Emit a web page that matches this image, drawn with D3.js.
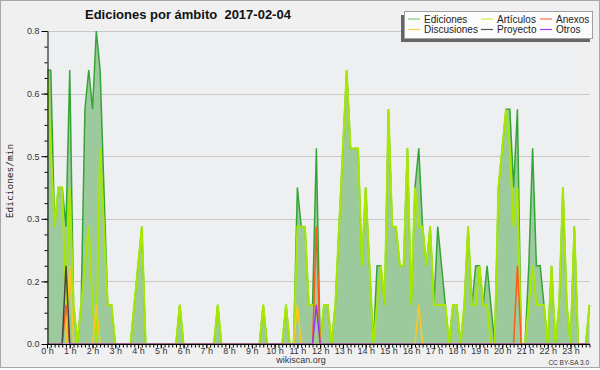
<!DOCTYPE html>
<html><head><meta charset="utf-8">
<script src="https://cdn.jsdelivr.net/npm/d3@7"></script>
<style>html,body{margin:0;padding:0;background:#fff;} svg{display:block;}</style>
</head><body>
<svg id="c" width="600" height="370"></svg>
<script>
// 10-minute bins (144 per day), edits per minute
const hourLabels = ["0 h","1 h","2 h","3 h","4 h","5 h","6 h","7 h","8 h","9 h","10 h","11 h","12 h","13 h","14 h","15 h","16 h","17 h","18 h","19 h","20 h","21 h","22 h","23 h"];
const yTickValues = [0, 0.16, 0.32, 0.48, 0.64, 0.8];
const seriesNames = ["Ediciones","Artículos","Anexos","Discusiones","Proyecto","Otros"];

const ediciones = [
 0.7,0.7,0.3,0.4,0.4,0.3,  0.7,0.1,0,0.1,0.6,0.7,  0.6,0.8,0.7,0.4,0.1,0.1,  0,0,0,0,0,0.1,
 0.2,0.3,0,0,0,0,  0,0,0,0,0,0.1,  0,0,0,0,0,0,  0,0,0,0.1,0,0,
 0,0,0,0,0,0,  0,0,0,0.1,0,0,  0,0,0,0.1,0,0,  0.4,0.3,0.3,0.1,0.1,0.5,
 0,0.1,0.1,0,0.1,0.3,  0.5,0.7,0.5,0.5,0.5,0.2,  0.4,0.2,0,0.2,0.2,0.1,  0.6,0.3,0.3,0.2,0.2,0.5,
 0.1,0.4,0.5,0.3,0.2,0.3,  0.1,0.3,0.2,0.1,0,0.1,  0.1,0,0.1,0.3,0.1,0.2,  0.2,0.1,0.2,0.1,0,0.4,
 0.5,0.6,0.6,0.4,0.6,0,  0,0.2,0.5,0.2,0.2,0.1,  0,0.2,0,0.1,0.4,0.1,  0,0.3,0,0,0,0.1
];
const articulos = [
 0.7,0.5,0.3,0.4,0.4,0.1,  0.4,0.1,0,0.1,0.2,0.3,  0.1,0,0.5,0.3,0.1,0.1,  0,0,0,0,0,0.1,
 0.2,0.3,0,0,0,0,  0,0,0,0,0,0.1,  0,0,0,0,0,0,  0,0,0,0.1,0,0,
 0,0,0,0,0,0,  0,0,0,0.1,0,0,  0,0,0,0.1,0,0,  0.3,0.3,0.3,0.1,0.1,0.1,
 0,0.1,0.1,0,0.1,0.3,  0.5,0.7,0.5,0.5,0.5,0.2,  0.4,0.2,0,0.1,0.2,0.1,  0.6,0.3,0.3,0.2,0.2,0.5,
 0.1,0.4,0.3,0.3,0.2,0.3,  0.1,0.1,0.1,0.1,0,0.1,  0.1,0,0.1,0.3,0.1,0.1,  0.2,0.1,0.1,0,0,0.4,
 0.5,0.6,0.5,0.3,0.4,0,  0,0.1,0.2,0.1,0.1,0.1,  0,0.2,0,0.1,0.4,0.1,  0,0.3,0,0,0,0.1
];
const anexos = [
 0,0,0,0,0,0.1,  0,0,0,0,0,0,  0,0,0,0,0,0,  0,0,0,0,0,0,
 0,0,0,0,0,0,  0,0,0,0,0,0,  0,0,0,0,0,0,  0,0,0,0,0,0,
 0,0,0,0,0,0,  0,0,0,0,0,0,  0,0,0,0,0,0,  0,0,0,0,0,0.3,
 0,0,0,0,0,0,  0,0,0,0,0,0,  0,0,0,0,0,0,  0,0,0,0,0,0,
 0,0,0,0,0,0,  0,0,0,0,0,0,  0,0,0,0,0,0,  0,0,0,0,0,0,
 0,0,0,0,0.2,0,  0,0,0,0,0,0,  0,0,0,0,0,0,  0,0,0,0,0,0
];
const discusiones = [
 0,0,0,0,0,0,  0.2,0,0,0,0,0,  0,0.1,0,0,0,0,  0,0,0,0,0,0,
 0,0,0,0,0,0,  0,0,0,0,0,0,  0,0,0,0,0,0,  0,0,0,0,0,0,
 0,0,0,0,0,0,  0,0,0,0,0,0,  0,0,0,0,0,0,  0.1,0,0,0,0,0,
 0,0,0,0,0,0,  0,0,0,0,0,0,  0,0,0,0,0,0,  0,0,0,0,0,0,
 0,0,0.1,0,0,0,  0,0,0,0,0,0,  0,0,0,0,0,0,  0,0,0,0,0,0,
 0,0,0,0,0,0,  0,0,0,0,0,0,  0,0,0,0,0,0,  0,0,0,0,0,0
];
const proyecto = [
 0,0,0,0,0,0.2,  0,0,0,0,0,0,  0,0,0,0,0,0,  0,0,0,0,0,0,
 0,0,0,0,0,0,  0,0,0,0,0,0,  0,0,0,0,0,0,  0,0,0,0,0,0,
 0,0,0,0,0,0,  0,0,0,0,0,0,  0,0,0,0,0,0,  0,0,0,0,0,0,
 0,0,0,0,0,0,  0,0,0,0,0,0,  0,0,0,0,0,0,  0,0,0,0,0,0,
 0,0,0,0,0,0,  0,0,0,0,0,0,  0,0,0,0,0,0,  0,0,0,0,0,0,
 0,0,0,0,0,0,  0,0,0,0,0,0,  0,0,0,0,0,0,  0,0,0,0,0,0
];
const otros = [
 0,0,0,0,0,0,  0,0,0,0,0,0,  0,0,0,0,0,0,  0,0,0,0,0,0,
 0,0,0,0,0,0,  0,0,0,0,0,0,  0,0,0,0,0,0,  0,0,0,0,0,0,
 0,0,0,0,0,0,  0,0,0,0,0,0,  0,0,0,0,0,0,  0,0,0,0,0,0.1,
 0,0,0,0,0,0,  0,0,0,0,0,0,  0,0,0,0,0,0,  0,0,0,0,0,0,
 0,0,0,0,0,0,  0,0,0,0,0,0,  0,0,0,0,0,0,  0,0,0,0,0,0,
 0,0,0,0,0,0,  0,0,0,0,0,0,  0,0,0,0,0,0,  0,0,0,0,0,0
];

const colors = {
  Ediciones: "#35a535", Artículos: "#a8e800", Anexos: "#ff5a1a",
  Discusiones: "#ffc81e", Proyecto: "#444444", Otros: "#9a30ff"
};
const legendColors = {
  Ediciones: "#7fc97f", Artículos: "#c8f040", Anexos: "#ff7040",
  Discusiones: "#ffd040", Proyecto: "#555555", Otros: "#9a40ff"
};

const svg = d3.select("#c");
const font = "'Liberation Sans', Arial, sans-serif";

// outer background + border
svg.append("rect").attr("x",0.5).attr("y",0.5).attr("width",599).attr("height",367)
  .attr("fill","#f0f0f0").attr("stroke","#a8a8a8");

const x = d3.scaleLinear().domain([0,143]).range([47,589.5]);
const y = d3.scaleLinear().domain([0,0.8]).range([344,31]);

// plot background
svg.append("rect").attr("x",47).attr("y",31).attr("width",543).attr("height",313).attr("fill","#edeff1");

// gridlines
svg.append("g").selectAll("line").data(yTickValues.slice(1)).join("line")
  .attr("x1",47).attr("x2",590).attr("y1",d=>Math.round(y(d))+0.5).attr("y2",d=>Math.round(y(d))+0.5)
  .attr("stroke","#c8c8c8").attr("stroke-width",1);

svg.append("clipPath").attr("id","clip").append("rect")
  .attr("x",47).attr("y",26).attr("width",544).attr("height",317.5);

const plot = svg.append("g").attr("clip-path","url(#clip)");

const area = d3.area().x((d,i)=>x(i)).y0(y(0)).y1(d=>y(d));
const line = d3.line().x((d,i)=>x(i)).y(d=>y(d));

plot.append("path").datum(ediciones).attr("d",area).attr("fill","#9dca9d");
plot.append("path").datum(ediciones).attr("d",line).attr("fill","none")
  .attr("stroke",colors.Ediciones).attr("stroke-width",1.5);
plot.append("path").datum(articulos).attr("d",line).attr("fill","none")
  .attr("stroke",colors["Artículos"]).attr("stroke-width",2);
[[anexos,"Anexos"],[discusiones,"Discusiones"],[proyecto,"Proyecto"],[otros,"Otros"]].forEach(([arr,name])=>{
  plot.append("path").datum(arr).attr("d",line).attr("fill","none")
    .attr("stroke",colors[name]).attr("stroke-width",1.5);
});

// Y axis
const yMinor = d3.range(0, 0.8001, 0.04);
const yAxisMinor = d3.axisLeft(y).tickValues(yMinor).tickSize(3).tickFormat("").tickSizeOuter(0);
const gyMinor = svg.append("g").attr("transform","translate(47.5,0)").call(yAxisMinor);
gyMinor.select(".domain").remove();
const yAxis = d3.axisLeft(y).tickValues(yTickValues).tickFormat(d3.format(".1f")).tickSize(6).tickPadding(2).tickSizeOuter(0);
const gy = svg.append("g").attr("transform","translate(47.5,0)").call(yAxis);
svg.selectAll("g.tick line").attr("stroke","#000");
gy.select(".domain").attr("stroke","#000");
gy.selectAll("text").attr("font-family",font).attr("font-size",9).attr("fill","#333");

// X axis
const xMinor = d3.range(0,144);
const gxMinor = svg.append("g").attr("transform","translate(0,344.5)")
  .call(d3.axisBottom(x).tickValues(xMinor).tickSize(3).tickFormat("").tickSizeOuter(0));
gxMinor.select(".domain").remove();
gxMinor.selectAll("line").attr("stroke","#000");
const hourIdx = d3.range(24).map(h=>h*6);
const gx = svg.append("g").attr("transform","translate(0,344.5)")
  .call(d3.axisBottom(x).tickValues(hourIdx).tickSize(4).tickFormat((d,i)=>hourLabels[i]).tickSizeOuter(0));
gx.select(".domain").attr("stroke","#000").attr("d","M47,0H590");
gx.selectAll("line").attr("stroke","#000");
gx.selectAll("text").attr("font-family",font).attr("font-size",9).attr("fill","#333")
  .attr("y",9).attr("dy",0);

// Y title
svg.append("text").attr("transform","translate(13,181) rotate(-90)").attr("text-anchor","middle")
  .attr("font-family","'DejaVu Sans Mono', monospace").attr("font-size",9.5).attr("fill","#222")
  .text("Ediciones/min");

// Title
svg.append("text").attr("x",85).attr("y",18.5).attr("font-family",font).attr("font-weight","bold")
  .attr("font-size",13).attr("fill","#111").attr("xml:space","preserve").style("white-space","pre")
  .text("Ediciones por ámbito  2017-02-04");

// Footer
svg.append("text").attr("x",301).attr("y",363).attr("text-anchor","middle").attr("font-family",font)
  .attr("font-size",9).attr("fill","#333").text("wikiscan.org");
svg.append("text").attr("x",589).attr("y",365).attr("text-anchor","end").attr("font-family",font)
  .attr("font-size",6.5).attr("fill","#333").text("CC BY-SA 3.0");

// Legend
svg.append("rect").attr("x",401).attr("y",15).attr("width",189).attr("height",27).attr("fill","#666");
svg.append("rect").attr("x",404.5).attr("y",11.5).attr("width",188).attr("height",27)
  .attr("fill","#fcfcfc").attr("stroke","#a0a0a0");
const legendPos = [
  {n:"Ediciones", lx:408, tx:424, ly:19, ty:22.5},
  {n:"Artículos", lx:481, tx:497, ly:19, ty:22.5},
  {n:"Anexos", lx:540, tx:556, ly:19, ty:22.5},
  {n:"Discusiones", lx:408, tx:424, ly:29.5, ty:32.5},
  {n:"Proyecto", lx:481, tx:497, ly:29.5, ty:32.5},
  {n:"Otros", lx:540, tx:556, ly:29.5, ty:32.5}
];
const lg = svg.append("g");
legendPos.forEach(p=>{
  lg.append("line").attr("x1",p.lx).attr("x2",p.lx+12).attr("y1",p.ly).attr("y2",p.ly)
    .attr("stroke",legendColors[p.n]).attr("stroke-width",1.2);
  lg.append("text").attr("x",p.tx).attr("y",p.ty).attr("font-family",font).attr("font-size",10)
    .attr("fill","#222").text(p.n);
});
</script>
</body></html>
